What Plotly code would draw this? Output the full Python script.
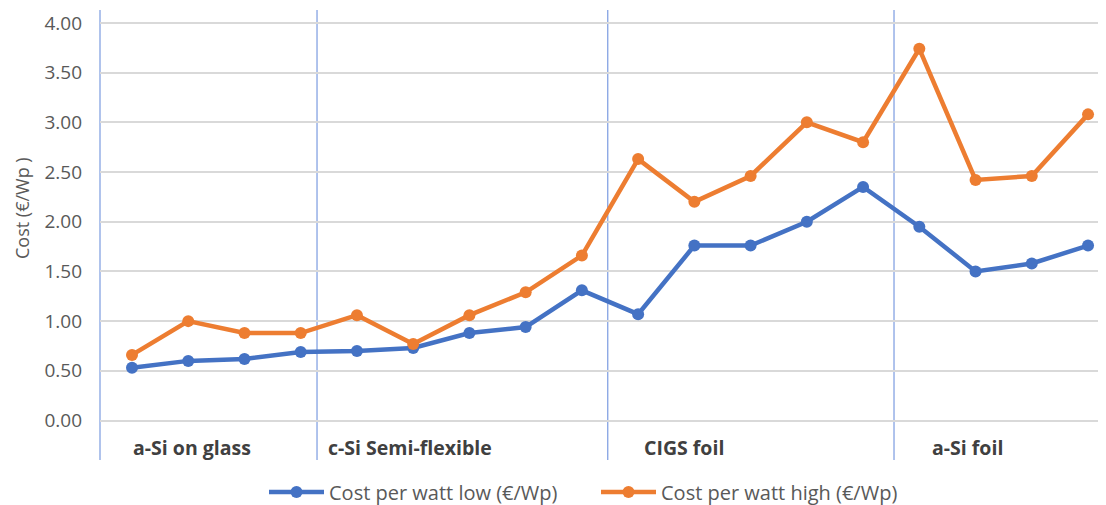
import plotly.graph_objects as go

categories = list(range(18))
cost_low = [0.53, 0.60, 0.62, 0.69, 0.70, 0.73, 0.88, 0.94, 1.31,
            1.07, 1.76, 1.76, 2.00, 2.35, 1.95, 1.50, 1.58, 1.76]
cost_high = [0.66, 1.00, 0.88, 0.88, 1.06, 0.77, 1.06, 1.29, 1.66,
             2.63, 2.20, 2.46, 3.00, 2.80, 3.74, 2.42, 2.46, 3.08]
group_labels = ["a-Si on glass", "c-Si Semi-flexible", "CIGS foil", "a-Si foil"]
group_label_x = [-0.02, 3.45, 9.07, 14.19]
separator_x = [3.29, 8.46, 13.55]
y_ticks = [0, 0.5, 1.0, 1.5, 2.0, 2.5, 3.0, 3.5, 4.0]

FONT = "Open Sans"
GRAY = "#595959"
BLUE = "#4472C4"
ORANGE = "#ED7D31"
SEP = "#7b9be0"

W, H = 1098, 497  # page body has an 8px margin
L, R, T, B = 92, 2, 2, 45

fig = go.Figure()
fig.add_trace(go.Scatter(x=categories, y=cost_low, mode="lines+markers",
                         name="Cost per watt low (€/Wp)",
                         line=dict(color=BLUE, width=4.5),
                         marker=dict(color=BLUE, size=12)))
fig.add_trace(go.Scatter(x=categories, y=cost_high, mode="lines+markers",
                         name="Cost per watt high (€/Wp)",
                         line=dict(color=ORANGE, width=4.5),
                         marker=dict(color=ORANGE, size=12)))

shapes = []
for sx in separator_x:
    shapes.append(dict(type="line", xref="x", yref="paper", x0=sx, x1=sx, y0=0, y1=1,
                       line=dict(color=SEP, width=1.2), layer="below"))
shapes.append(dict(type="line", xref="paper", yref="paper", x0=0, x1=0, y0=0, y1=1,
                   line=dict(color=SEP, width=1.2), layer="below"))
annotations = []
for lbl, lx in zip(group_labels, group_label_x):
    annotations.append(dict(text="<b>" + lbl + "</b>", x=lx, y=-0.27, xref="x", yref="y",
                            xanchor="left", yanchor="middle", showarrow=False,
                            font=dict(family=FONT, size=19.5, color="#404040")))
pw, ph = W - L - R, H - T - B
annotations.append(dict(text="Cost (€/Wp )", xref="paper", yref="paper",
                        x=(14 - L) / pw, y=(H - B - 200) / ph, textangle=-90,
                        xanchor="center", yanchor="middle", showarrow=False,
                        font=dict(family=FONT, size=18, color=GRAY)))

fig.update_layout(
    width=W, height=H,
    margin=dict(l=L, r=R, t=T, b=B, autoexpand=False),
    paper_bgcolor="white", plot_bgcolor="white",
    showlegend=True,
    legend=dict(orientation="h", xref="container", yref="container",
                x=(322 - 66) / W, xanchor="left", y=1 - 484 / H, yanchor="middle",
                font=dict(family=FONT, size=20, color=GRAY), entrywidth=262,
                itemwidth=55),
    xaxis=dict(range=[-0.569, 17.284], showgrid=False, zeroline=False,
               showticklabels=False, showline=False),
    yaxis=dict(range=[-0.397, 4.13], tickvals=y_ticks, tickformat=".2f",
               showgrid=True, gridcolor="#d9d9d9", gridwidth=1.8, zeroline=False,
               showline=False, ticklabelstandoff=17,
               tickfont=dict(family=FONT, size=19, color=GRAY)),
    shapes=shapes, annotations=annotations,
)
fig.write_html("out.html")
